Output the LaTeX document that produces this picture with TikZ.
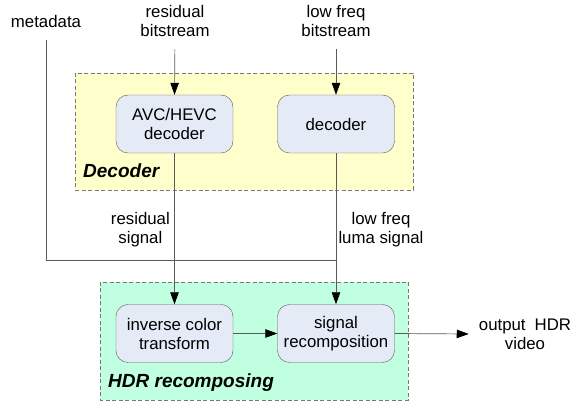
\documentclass[tikz,border=0pt]{standalone}
\usepackage{fontspec}
\setmainfont{Liberation Sans}
\usepackage{tikz}
\usetikzlibrary{arrows.meta, positioning}

\definecolor{decfill}{RGB}{255,255,204}
\definecolor{hdrfill}{RGB}{192,255,224}
\definecolor{blockfill}{RGB}{228,234,246}
\definecolor{linegray}{RGB}{90,90,90}
\definecolor{dashgray}{RGB}{120,120,120}

\tikzset{
    block/.style={draw=linegray, fill=blockfill, rounded corners=12pt, align=center,
        minimum width=117pt, minimum height=58pt, inner sep=2pt},
    group/.style={draw=dashgray, dash pattern=on 4pt off 2.5pt, line width=0.8pt},
    lbl/.style={align=center, inner sep=0pt},
    grouplbl/.style={font=\fontsize{19}{22}\selectfont\bfseries\itshape, anchor=base west, inner sep=0pt},
    arr/.style={-{Triangle[length=12pt,width=8.5pt,color=black]}, linegray, line width=0.7pt},
    wire/.style={linegray, line width=0.7pt}
}

\begin{document}
\begin{tikzpicture}[x=1pt, y=-1pt, font=\fontsize{16.8}{19}\selectfont]
    \useasboundingbox (0,0) rectangle (582,403);

    % group boxes
    \filldraw[group, fill=decfill] (75,73) rectangle (413,190);
    \filldraw[group, fill=hdrfill] (100,282) rectangle (408,400);
    \node[grouplbl] (declbl) at (83,178) {Decoder};
    \node[grouplbl] (hdrlbl) at (108,388) {HDR recomposing};

    % blocks
    \node[block] (avc) at (174.5,124) {AVC/HEVC\\decoder};
    \node[block] (dec) at (336,124) {decoder};
    \node[block] (inv) at (174.5,333.5) {inverse color\\transform};
    \node[block] (rec) at (336,333.5) {signal\\recomposition};

    % inputs and outputs
    \node[lbl] (meta) at (46,21) {metadata};
    \node[lbl] (resbits) at (175,21) {residual\\bitstream};
    \node[lbl] (lfbits) at (336,21) {low freq\\bitstream};
    \node[lbl] (out) at (525,334) {output\hspace{9pt}HDR\\video};

    % signal labels
    \node[lbl, anchor=east] (ressig) at (170,230) {residual\\signal};
    \node[lbl] (lfluma) at (381,230) {low freq\\luma signal};

    \coordinate (join) at (336,260);

    % connections
    \draw[arr, shorten <=12pt] (resbits.south) -- (avc.north);
    \draw[arr, shorten <=12pt] (lfbits.south) -- (dec.north);
    \draw[arr] (avc.south) -- (inv.north);
    \draw[arr] (dec.south) -- (rec.north);
    \draw[wire, shorten <=13pt] (meta.south) |- (join);
    \draw[arr] (inv.east) -- (rec.west);
    \draw[arr] (rec.east) -- ([xshift=-10pt]out.west);
\end{tikzpicture}
\end{document}
